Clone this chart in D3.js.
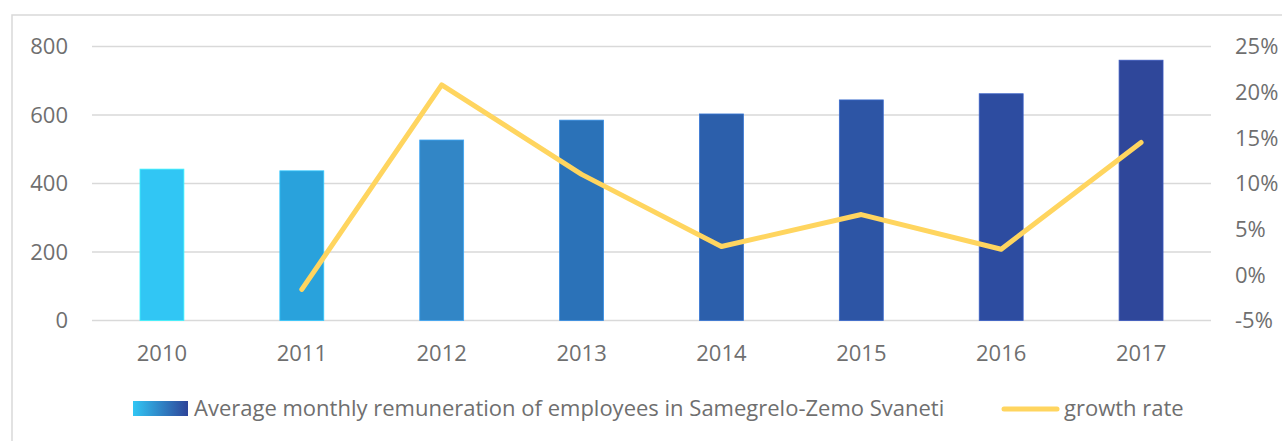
<!DOCTYPE html>
<html>
<head>
<meta charset="utf-8">
<script src="https://cdn.jsdelivr.net/npm/d3@7"></script>
<style>
  body { margin: 0; background: #fff; }
  text { font-family: "Open Sans", sans-serif; fill: #6f6f6f; }
</style>
</head>
<body>
<div id="chart"></div>
<script>
// chart data
const years = ["2010", "2011", "2012", "2013", "2014", "2015", "2016", "2017"];
const remuneration = [442, 437, 527, 585, 603, 644, 662, 760];
const growth = [null, -1.6, 20.8, 11.0, 3.1, 6.6, 2.8, 14.5];
const leftTicks = [0, 200, 400, 600, 800];
const rightTicks = [-5, 0, 5, 10, 15, 20, 25];
const barLabel = "Average monthly remuneration of employees in Samegrelo-Zemo Svaneti";
const lineLabel = "growth rate";

const width = 1282, height = 441;
const fontSize = "22px";
const svg = d3.select("#chart").append("svg")
  .attr("width", width)
  .attr("height", height);

// outer chart border (runs past the window on right and bottom)
svg.append("rect")
  .attr("x", 12).attr("y", 15)
  .attr("width", 1300).attr("height", 460)
  .attr("fill", "none")
  .attr("stroke", "#d9d9d9")
  .attr("stroke-width", 1.5);

const plot = { left: 92, right: 1211, top: 46.5, bottom: 320.5 };

const x = d3.scaleBand()
  .domain(years)
  .range([plot.left, plot.right])
  .paddingInner(0.686)
  .paddingOuter(0.343);

const y = d3.scaleLinear().domain([0, 800]).range([plot.bottom, plot.top]);
const y2 = d3.scaleLinear().domain([-5, 25]).range([plot.bottom, plot.top]);

// gridlines
svg.append("g")
  .selectAll("line")
  .data(leftTicks)
  .join("line")
  .attr("x1", plot.left).attr("x2", plot.right)
  .attr("y1", d => y(d)).attr("y2", d => y(d))
  .attr("stroke", "#d9d9d9")
  .attr("stroke-width", 1.5);

// bar colours go from light cyan to dark blue
const color = d3.scaleLinear()
  .domain([0, 1, 2, 3, 4, 5, 6, 7])
  .range(["#31c6f4", "#29a2dc", "#3286c6", "#2b72b8", "#2c5fab", "#2d55a5", "#2d4ca0", "#2f479a"]);

svg.append("g")
  .selectAll("rect")
  .data(remuneration)
  .join("rect")
  .attr("x", (d, i) => x(years[i]))
  .attr("y", d => y(d))
  .attr("width", x.bandwidth())
  .attr("height", d => y(0) - y(d))
  .attr("fill", (d, i) => color(i))
  .attr("stroke", (d, i) => d3.color(color(i)).brighter(0.6))
  .attr("stroke-width", 0.8);

// growth line
const line = d3.line()
  .defined(d => d != null)
  .x((d, i) => x(years[i]) + x.bandwidth() / 2)
  .y(d => y2(d));

svg.append("path")
  .datum(growth)
  .attr("d", line)
  .attr("fill", "none")
  .attr("stroke", "#ffd55f")
  .attr("stroke-width", 5)
  .attr("stroke-linecap", "round")
  .attr("stroke-linejoin", "round");

// left axis labels
svg.append("g")
  .selectAll("text")
  .data(leftTicks)
  .join("text")
  .attr("x", 68)
  .attr("y", d => y(d))
  .attr("dy", "0.36em")
  .attr("text-anchor", "end")
  .style("font-size", fontSize)
  .text(d => d);

// right axis labels
svg.append("g")
  .selectAll("text")
  .data(rightTicks)
  .join("text")
  .attr("x", 1235)
  .attr("y", d => y2(d))
  .attr("dy", "0.36em")
  .attr("text-anchor", "start")
  .style("font-size", fontSize)
  .text(d => d + "%");

// category labels
svg.append("g")
  .selectAll("text")
  .data(years)
  .join("text")
  .attr("x", d => x(d) + x.bandwidth() / 2)
  .attr("y", 353)
  .attr("dy", "0.36em")
  .attr("text-anchor", "middle")
  .style("font-size", fontSize)
  .text(d => d);

// legend
const defs = svg.append("defs");
const grad = defs.append("linearGradient").attr("id", "legendGrad");
grad.append("stop").attr("offset", "0%").attr("stop-color", "#31c6f4");
grad.append("stop").attr("offset", "100%").attr("stop-color", "#2e4499");

svg.append("rect")
  .attr("x", 133).attr("y", 401)
  .attr("width", 55).attr("height", 15)
  .attr("fill", "url(#legendGrad)");

svg.append("text")
  .attr("x", 194).attr("y", 408)
  .attr("dy", "0.36em")
  .style("font-size", fontSize)
  .text(barLabel);

svg.append("line")
  .attr("x1", 1004).attr("x2", 1057)
  .attr("y1", 409).attr("y2", 409)
  .attr("stroke", "#ffd55f")
  .attr("stroke-width", 5)
  .attr("stroke-linecap", "round");

svg.append("text")
  .attr("x", 1064).attr("y", 408)
  .attr("dy", "0.36em")
  .style("font-size", fontSize)
  .text(lineLabel);
</script>
</body>
</html>
